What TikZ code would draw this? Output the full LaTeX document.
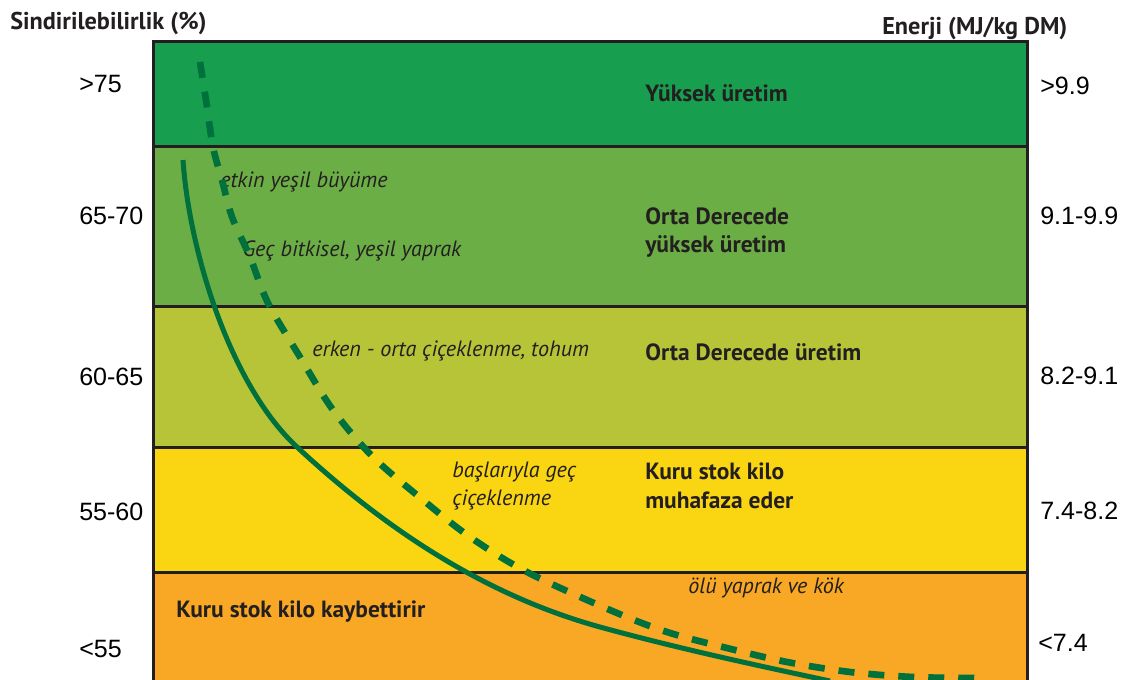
\documentclass[tikz,border=0pt]{standalone}
\usepackage{fontspec}
\setmainfont{PT Sans}
\newfontfamily\numfont{Liberation Sans}
\usetikzlibrary{positioning}
\definecolor{bandtop}{RGB}{23,158,78}
\definecolor{bandhigh}{RGB}{108,174,70}
\definecolor{bandmid}{RGB}{184,196,56}
\definecolor{bandkeep}{RGB}{250,214,18}
\definecolor{bandloss}{RGB}{248,168,36}
\definecolor{edge}{RGB}{35,31,32}
\definecolor{curve}{RGB}{0,112,60}
\tikzset{
    band/.style={
           draw=edge,
           line width=2.25pt
           },
    level/.style={
           anchor=base west,
           inner sep=0pt,
           align=left,
           text=edge,
           font=\bfseries\fontsize{17.6}{21.5}\selectfont
           },
    stage/.style={
           anchor=base west,
           inner sep=0pt,
           align=left,
           text=edge,
           font=\itshape\fontsize{16.6}{20.3}\selectfont
           },
    value/.style={
           anchor=base west,
           inner sep=0pt,
           text=black,
           font=\numfont\fontsize{18.8}{22}\selectfont
           },
    axistitle/.style={
           anchor=base west,
           inner sep=0pt,
           text=edge,
           font=\bfseries\fontsize{18.2}{21}\selectfont
           },
}

\begin{document}
\begin{tikzpicture}[x=0.75pt,y=-0.75pt]
\useasboundingbox (0,0) rectangle (1126,680);
\clip (0,0) rectangle (1126,680);

% bands, from high to low digestibility
\filldraw[band,fill=bandloss] (153,572) rectangle (1027,700);
\filldraw[band,fill=bandkeep] (153,447) rectangle (1027,572);
\filldraw[band,fill=bandmid] (153,307) rectangle (1027,447);
\filldraw[band,fill=bandhigh] (153,147) rectangle (1027,307);
\filldraw[band,fill=bandtop] (153,42) rectangle (1027,147);

% axis titles
\node[axistitle] (DIGEST) at (10,30) {Sindirilebilirlik (\%)};
\node[axistitle] (ENERGY) at (882,35) {Enerji (MJ/kg DM)};

% left scale
\node[value] (DA) at (79,93) {>75};
\node[value] (DB) at (79,225) {65-70};
\node[value] (DC) at (79,385) {60-65};
\node[value] (DD) at (79,520) {55-60};
\node[value] (DE) at (79,657) {<55};

% right scale
\node[value] (EA) at (1040,95) {>9.9};
\node[value] (EB) at (1040,225) {9.1-9.9};
\node[value] (EC) at (1040,384) {8.2-9.1};
\node[value] (ED) at (1040,519) {7.4-8.2};
\node[value] (EE) at (1038,651) {<7.4};

% production levels
\node[level] (HIGH) at (645,102) {Yüksek üretim};
\node[level] (MIDHIGH) at (645,253) {Orta Derecede\\yüksek üretim};
\node[level] (MID) at (645,360) {Orta Derecede üretim};
\node[level] (KEEP) at (645,508) {Kuru stok kilo\\muhafaza eder};
\node[level] (LOSS) at (176,617) {Kuru stok kilo kaybettirir};

% growth stages
\node[stage] (GREEN) at (220,188) {etkin yeşil büyüme};
\node[stage] (LATEVEG) at (242,257) {Geç bitkisel, yeşil yaprak};
\node[stage] (FLOWER) at (312,356) {erken - orta çiçeklenme, tohum};
\node[stage] (LATEFLOWER) at (452,505) {başlarıyla geç\\çiçeklenme};
\node[stage] (DEAD) at (688,593) {ölü yaprak ve kök};

% curves
\draw[curve,line width=3.75pt] (183,160) .. controls (189,250) and (230,385) .. (297,447)
  .. controls (380,524) and (480,594) .. (600,627)
  .. controls (680,649) and (760,666) .. (830,681);
\draw[curve,line width=5pt,dash pattern=on 12pt off 10.5pt] plot[smooth,tension=0.55] coordinates {
  (200,62) (206,100) (213,147) (222,180) (232,217) (250,257) (268,303)
  (300,357) (333,410) (373,457) (423,500) (470,537) (527,572) (610,610)
  (667,632) (727,648) (787,662) (850,672) (913,677) (978,678)};

\end{tikzpicture}
\end{document}
